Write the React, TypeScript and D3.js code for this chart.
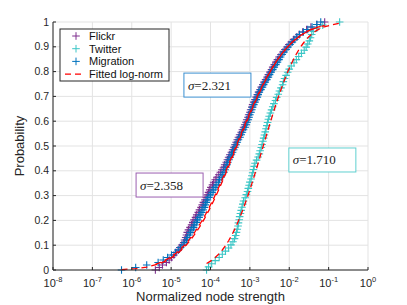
import React from 'react';
import * as d3 from 'd3';

// empirical samples, log10 of normalized node strength (sorted)
const flickrLog = [
  -5.40, -5.30, -5.22, -5.12, -5.05, -4.99, -4.93, -4.87, -4.82, -4.78,
  -4.73, -4.68, -4.66, -4.63, -4.61, -4.59, -4.56, -4.52, -4.48, -4.45,
  -4.42, -4.38, -4.35, -4.31, -4.28, -4.24, -4.21, -4.18, -4.14, -4.11,
  -4.08, -4.05, -4.02, -3.99, -3.95, -3.92, -3.88, -3.84, -3.79, -3.75,
  -3.71, -3.67, -3.64, -3.60, -3.57, -3.54, -3.51, -3.47, -3.44, -3.41,
  -3.38, -3.35, -3.32, -3.29, -3.26, -3.22, -3.19, -3.16, -3.13, -3.10,
  -3.08, -3.05, -3.03, -3.00, -2.98, -2.95, -2.93, -2.90, -2.87, -2.84,
  -2.81, -2.78, -2.74, -2.71, -2.67, -2.64, -2.60, -2.56, -2.53, -2.49,
  -2.45, -2.42, -2.38, -2.34, -2.30, -2.26, -2.21, -2.16, -2.11, -2.06,
  -2.01, -1.95, -1.89, -1.82, -1.75, -1.66, -1.56, -1.45, -1.30, -1.10,
];

const twitterLog = [
  -4.10, -4.05, -3.97, -3.88, -3.78, -3.70, -3.62, -3.54, -3.48, -3.43,
  -3.39, -3.36, -3.34, -3.32, -3.30, -3.29, -3.27, -3.26, -3.24, -3.22,
  -3.20, -3.18, -3.16, -3.12, -3.09, -3.06, -3.04, -3.02, -3.00, -2.97,
  -2.95, -2.93, -2.91, -2.89, -2.87, -2.83, -2.79, -2.76, -2.74, -2.71,
  -2.69, -2.67, -2.65, -2.63, -2.61, -2.59, -2.57, -2.55, -2.53, -2.51,
  -2.48, -2.45, -2.42, -2.39, -2.35, -2.32, -2.28, -2.25, -2.21, -2.17,
  -2.15, -2.12, -2.08, -2.04, -2.00, -1.95, -1.88, -1.82, -1.76, -1.69,
  -1.62, -1.57, -1.53, -1.49, -1.46, -1.43, -1.39, -1.30, -1.15, -0.72,
];

const migrationLog = [
  -6.26, -5.90, -5.62, -5.33, -5.20, -5.09, -4.99, -4.89, -4.82, -4.76,
  -4.70, -4.65, -4.61, -4.58, -4.54, -4.51, -4.47, -4.43, -4.40, -4.36,
  -4.33, -4.29, -4.26, -4.22, -4.19, -4.16, -4.13, -4.11, -4.08, -4.04,
  -4.00, -3.96, -3.92, -3.88, -3.84, -3.80, -3.77, -3.73, -3.70, -3.66,
  -3.63, -3.61, -3.58, -3.56, -3.53, -3.50, -3.47, -3.44, -3.41, -3.38,
  -3.35, -3.32, -3.29, -3.25, -3.22, -3.19, -3.16, -3.12, -3.09, -3.07,
  -3.04, -3.02, -3.00, -2.97, -2.95, -2.93, -2.90, -2.87, -2.84, -2.81,
  -2.79, -2.76, -2.72, -2.68, -2.65, -2.61, -2.57, -2.53, -2.50, -2.46,
  -2.42, -2.38, -2.34, -2.30, -2.26, -2.22, -2.18, -2.13, -2.08, -2.03,
  -1.98, -1.92, -1.86, -1.80, -1.74, -1.64, -1.53, -1.42, -1.30, -1.20,
];

const seriesNames = ['Flickr', 'Twitter', 'Migration'];
const seriesColors = ['#7E2F8E', '#3cc6c6', '#0072BD'];
const boxColors = ['#9b5fb0', '#5fd0d0', '#3a8fd0'];
// fitted log-normal parameters (median as log10, sigma in ln units)
const fitMedianLog = [-3.35, -2.66, -3.33];
const fitSigma = [2.358, 1.710, 2.321];
// annotation anchors (left log10 x, top probability)
const labelX = [-5.89, -2.01, -4.675];
const labelY = [0.391, 0.492, 0.794];

const xTicks = [-8, -7, -6, -5, -4, -3, -2, -1, 0];
const yTicks = [0, 0.1, 0.2, 0.3, 0.4, 0.5, 0.6, 0.7, 0.8, 0.9, 1];

const W = 407;
const H = 305;
const margin = { top: 22, right: 39, bottom: 35, left: 53 };

function erf(x: number) {
  const s = x < 0 ? -1 : 1;
  const a = Math.abs(x);
  const t = 1 / (1 + 0.3275911 * a);
  const y = 1 - (((((1.061405429 * t - 1.453152027) * t) + 1.421413741) * t - 0.284496736) * t + 0.254829592) * t * Math.exp(-a * a);
  return s * y;
}
const normCdf = (z: number) => 0.5 * (1 + erf(z / Math.SQRT2));

export default function App() {
  const x = d3.scaleLinear().domain([-8, 0]).range([margin.left, W - margin.right]);
  const y = d3.scaleLinear().domain([0, 1]).range([H - margin.bottom, margin.top]);
  const data = [flickrLog, twitterLog, migrationLog];
  const font = '"Liberation Sans", Arial, Helvetica, sans-serif';

  const line = d3.line<[number, number]>().x(d => x(d[0])).y(d => y(d[1]));

  const plus = 'M-3.8,0H3.8M0,-3.8V3.8';

  return (
    <svg width={W} height={H} style={{ position: 'absolute', left: 0, top: 0, background: '#fff' }} fontFamily={font}>
      {/* grid */}
      {xTicks.map(t => (
        <line key={'gx' + t} x1={x(t)} x2={x(t)} y1={y(0)} y2={y(1)} stroke="#e3e3e3" strokeWidth={1} />
      ))}
      {yTicks.map(t => (
        <line key={'gy' + t} x1={x(-8)} x2={x(0)} y1={y(t)} y2={y(t)} stroke="#e3e3e3" strokeWidth={1} />
      ))}

      {/* ecdf markers */}
      {data.map((arr, si) => (
        <g key={'s' + si} stroke={seriesColors[si]} strokeWidth={1.1} fill="none">
          {arr.map((v, i) => (
            <path key={i} d={plus} transform={`translate(${x(v)},${y(i / (arr.length - 1))})`} />
          ))}
        </g>
      ))}

      {/* fitted log-normal cdf at the sample points */}
      {data.map((arr, si) => {
        const pts: [number, number][] = arr.map(v => [v, normCdf(((v - fitMedianLog[si]) * Math.LN10) / fitSigma[si])]);
        return (
          <path key={'f' + si} d={line(pts) || ''} fill="none" stroke="#ff0000" strokeWidth={1.3} strokeDasharray="6,4" />
        );
      })}

      {/* axes */}
      <line x1={x(-8)} x2={x(0)} y1={y(0)} y2={y(0)} stroke="#262626" strokeWidth={1} />
      <line x1={x(-8)} x2={x(-8)} y1={y(0)} y2={y(1)} stroke="#262626" strokeWidth={1} />
      {xTicks.map(t => (
        <g key={'xt' + t}>
          <line x1={x(t)} x2={x(t)} y1={y(0)} y2={y(0) - 3} stroke="#262626" />
          <text x={x(t)} y={y(0) + 17} textAnchor="middle" fontSize={11} fill="#262626">
            10<tspan fontSize={7.5} dy={-5}>{t}</tspan>
          </text>
        </g>
      ))}
      {yTicks.map(t => (
        <g key={'yt' + t}>
          <line x1={x(-8)} x2={x(-8) + 3} y1={y(t)} y2={y(t)} stroke="#262626" />
          <text x={x(-8) - 4} y={y(t) + 3.5} textAnchor="end" fontSize={10.5} fill="#262626">
            {t}
          </text>
        </g>
      ))}
      <text x={(x(-8) + x(0)) / 2} y={H - 4} textAnchor="middle" fontSize={13} fill="#262626">
        Normalized node strength
      </text>
      <text transform={`translate(24,${(y(0) + y(1)) / 2}) rotate(-90)`} textAnchor="middle" fontSize={13} fill="#262626">
        Probability
      </text>

      {/* sigma annotations */}
      {fitSigma.map((s, i) => (
        <g key={'a' + i} transform={`translate(${x(labelX[i])},${y(labelY[i])})`}>
          <rect width={67} height={24} fill="#fff" stroke={boxColors[i]} strokeWidth={1} />
          <text x={4} y={16.5} fontSize={13} fontFamily='"Liberation Serif", "Times New Roman", serif' fill="#222">
            <tspan fontStyle="italic">σ</tspan>=<tspan>{s.toFixed(3)}</tspan>
          </text>
        </g>
      ))}

      {/* legend */}
      <g transform="translate(60,29)">
        <rect width={109} height={52} fill="#fff" stroke="#262626" strokeWidth={1} />
        {seriesNames.map((n, i) => (
          <g key={'l' + i} transform={`translate(0,${7 + i * 12.7})`}>
            <path d={plus} transform="translate(16,0)" stroke={seriesColors[i]} fill="none" />
            <text x={29} y={4} fontSize={11} fill="#111">{n}</text>
          </g>
        ))}
        <g transform={`translate(0,${7 + 3 * 12.7})`}>
          <line x1={5} x2={24} y1={0} y2={0} stroke="#ff0000" strokeWidth={1.3} strokeDasharray="6,4" />
          <text x={29} y={4} fontSize={11} fill="#111">Fitted log-norm</text>
        </g>
      </g>
    </svg>
  );
}
